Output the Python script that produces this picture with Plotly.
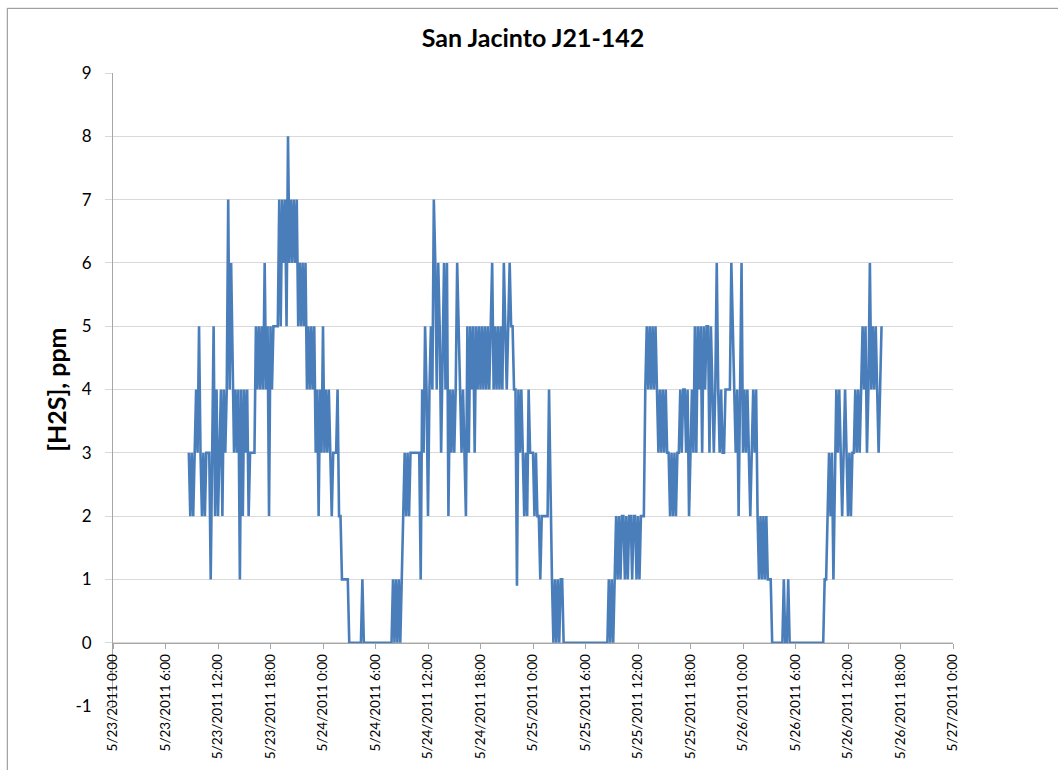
import pandas as pd
import plotly.graph_objects as go

# H2S readings (ppm), one every 10 minutes starting 5/23/2011 8:40
h2s_a = [3, 2, 3, 2, 3, 4, 3, 5, 3, 2, 3, 2, 3, 3, 3, 1, 3, 5, 2, 4,
         2, 3, 4, 2, 4, 3, 4, 7, 4, 6, 4, 3, 4, 3, 4, 1, 4, 2, 4, 3,
         4, 2, 3, 3, 3, 3, 5, 4, 5, 4, 5, 4, 6, 4, 5, 2, 5, 4, 5, 5]
h2s_b = [5, 5, 7, 5, 7, 6, 7, 5, 8, 6, 7, 6, 7, 6, 7, 5, 6, 5, 6, 5,
         6, 4, 5, 4, 5, 4, 5, 3, 4, 2, 4, 3, 5, 3, 4, 3, 4, 3, 2, 3,
         3, 3, 4, 2, 2, 1, 1, 1, 1, 1, 0, 0, 0, 0, 0, 0, 0, 0, 0, 1]
h2s_c = [0, 0, 0, 0, 0, 0, 0, 0, 0, 0, 0, 0, 0, 0, 0, 0, 0, 0, 0, 0,
         1, 0, 1, 0, 1, 0, 1, 2, 3, 2, 3, 2, 3, 3, 3, 3, 3, 3, 3, 1,
         4, 3, 5, 4, 2, 4, 5, 4, 7, 6, 4, 6, 5, 3, 5, 6, 4, 6, 2, 4]
h2s_d = [3, 4, 3, 4, 6, 5, 4, 3, 4, 3, 2, 5, 3, 5, 4, 5, 3, 5, 4, 5,
         4, 5, 4, 5, 4, 5, 4, 5, 6, 4, 5, 4, 5, 4, 5, 4, 6, 5, 4, 5,
         6, 5, 5, 4, 4, 0.9, 4, 3, 4, 3, 2, 3, 2, 4, 3, 3, 3, 2, 3, 2]
h2s_e = [2, 1, 2, 2, 2, 2, 2, 4, 2, 1, 0, 1, 0, 1, 0, 1, 1, 0, 0, 0,
         0, 0, 0, 0, 0, 0, 0, 0, 0, 0, 0, 0, 0, 0, 0, 0, 0, 0, 0, 0,
         0, 0, 0, 0, 0, 0, 0, 0, 1, 0, 1, 0, 1, 2, 1, 2, 1, 2, 2, 1]
h2s_f = [2, 1, 2, 2, 1, 2, 2, 1, 2, 1, 2, 2, 2, 4, 5, 4, 5, 4, 5, 4,
         5, 4, 3, 4, 3, 4, 3, 4, 3, 3, 2, 3, 2, 3, 2, 3, 3, 4, 3, 4,
         4, 3, 4, 2, 3, 4, 3, 5, 3, 5, 4, 5, 3, 5, 4, 5, 5, 3, 5, 4]
h2s_g = [3, 4, 6, 4, 3, 4, 3, 3, 4, 4, 4, 4, 6, 5, 4, 3, 4, 2, 4, 6,
         3, 4, 3, 4, 3, 2, 3, 4, 3, 4, 2, 1, 2, 1, 2, 1, 2, 1, 1, 1,
         0, 0, 0, 0, 0, 0, 0, 0, 1, 0, 0, 1, 0, 0, 0, 0, 0, 0, 0, 0]
h2s_h = [0, 0, 0, 0, 0, 0, 0, 0, 0, 0, 0, 0, 0, 0, 0, 0, 1, 1, 2, 3,
         2, 3, 1, 3, 4, 3, 4, 3, 2, 3, 4, 3, 2, 3, 2, 3, 3, 4, 3, 4,
         3, 4, 5, 4, 5, 3, 4, 6, 4, 5, 4, 5, 4, 3, 4, 5]

h2s = h2s_a + h2s_b + h2s_c + h2s_d + h2s_e + h2s_f + h2s_g + h2s_h
times = pd.date_range("2011-05-23 08:40", periods=len(h2s), freq="10min")

# axis ticks every 6 hours
tick_times = pd.date_range("2011-05-23 00:00", "2011-05-27 00:00", freq="6h")
tick_text = [f"{t.month}/{t.day}/{t.year} {t.hour}:{t.minute:02d}" for t in tick_times]
y_ticks = list(range(-1, 10))

FONT = "Lato, 'Open Sans', Arial, sans-serif"
GRID = "#D9D9D9"
AXIS = "#A6A6A6"

fig = go.Figure()
fig.add_trace(go.Scatter(
    x=times, y=h2s, mode="lines",
    line=dict(color="#4A7EBB", width=2.6),
    showlegend=False,
))

# plot area: 112.7..952.7 px wide, 72.7..706 px tall
L, R, T, B = 112.7, 952.7, 72.7, 706
W, H = R - L, B - T

fig.update_layout(
    width=1058, height=770,
    margin=dict(l=L, r=1058 - R, t=T, b=770 - B, autoexpand=False),
    paper_bgcolor="white", plot_bgcolor="white",
    font=dict(family=FONT, color="#000000"),
    title=dict(text="<b>San Jacinto J21-142</b>", x=0.5, xref="paper",
               y=1 - 38 / 770, yanchor="middle", font=dict(size=25)),
    xaxis=dict(
        range=[tick_times[0], tick_times[-1]],
        tickvals=tick_times, ticktext=tick_text, tickangle=-90,
        tickfont=dict(size=13.5),
        anchor="free", position=0.1,
        showgrid=False, showline=True, linecolor=AXIS, linewidth=1,
        ticks="outside", ticklen=5, tickcolor=AXIS,
        automargin=False,
    ),
    yaxis=dict(
        range=[-1, 9], tickvals=y_ticks, ticktext=[str(v) for v in y_ticks],
        tickfont=dict(size=17),
        showgrid=True, gridcolor=GRID, gridwidth=1,
        zeroline=False,
        showline=True, linecolor=AXIS, linewidth=1,
        ticks="outside", ticklen=7, tickcolor=GRID,
        ticklabelstandoff=10,
        automargin=False,
    ),
)

fig.add_annotation(
    text="<b>[H2S], ppm</b>", textangle=-90,
    xref="paper", yref="paper", x=(55 - L) / W, y=0.5,
    xanchor="center", yanchor="middle",
    showarrow=False, font=dict(size=25),
)

# chart-area frame (top and left edges visible)
fx, fy = (7 - L) / W, (B - 8) / H
fig.add_shape(type="line", xref="paper", yref="paper",
              x0=fx, x1=(1058 - L) / W, y0=fy, y1=fy,
              line=dict(color="#8C8C8C", width=1))
fig.add_shape(type="line", xref="paper", yref="paper",
              x0=fx, x1=fx, y0=fy, y1=(B - 775) / H,
              line=dict(color="#8C8C8C", width=1))

fig.write_html("out.html", config={"displayModeBar": False},
               post_script="document.body.style.margin='0';")
